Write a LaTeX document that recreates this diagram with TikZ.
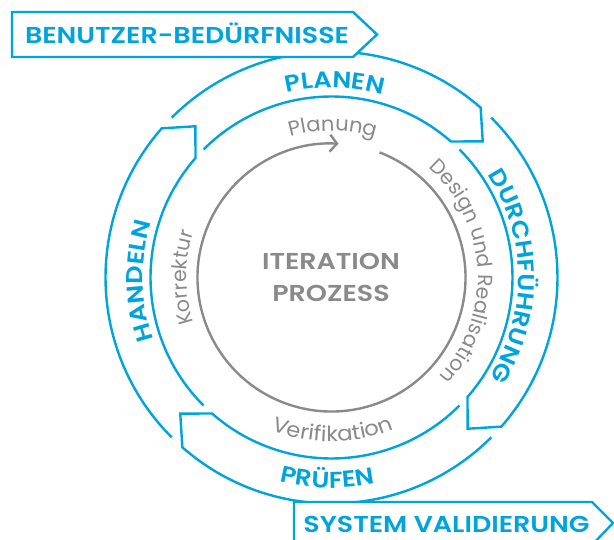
\documentclass[tikz,border=0pt]{standalone}
\usepackage{fontspec}
\usetikzlibrary{decorations.text,arrows.meta}
\IfFontExistsTF{Poppins SemiBold}{\newfontfamily\boldf{Poppins SemiBold}[FakeStretch=1.12]\newfontfamily\boldw{Poppins SemiBold}[FakeStretch=1.17]}{\newfontfamily\boldf{Poppins}[FakeStretch=1.1]\newfontfamily\boldw{Poppins}[FakeStretch=1.15]}
\newfontfamily\lightf{Poppins}
\newfontfamily\lightm{Poppins}[FakeStretch=1.03]
\newfontfamily\lightw{Poppins}[FakeStretch=1.08]
\definecolor{cblue}{RGB}{0,164,220}
\definecolor{cgray}{RGB}{138,138,138}
\tikzset{
  band/.style={draw=cblue, line width=2.4pt, line join=miter},
  labelbox/.style={draw=cblue, fill=white, line width=2.4pt, line join=miter},
  bluetxt/.style={text=cblue, font=\boldw\fontsize{23}{23}\selectfont, inner sep=0pt},
  graytxt/.style={text=cgray, font=\boldw\fontsize{23}{23}\selectfont, inner sep=0pt},
  ringline/.style={draw=cgray, line width=2.4pt},
  bluearc/.style={decorate, decoration={text along path, text align=center, text color=cblue,
      text={|\boldf\fontsize{23}{23}\selectfont|#1}}},
  grayarc/.style 2 args={decorate, decoration={text along path, text align=center, text color=cgray,
      text={|#1|#2}}},
}
\begin{document}
\begin{tikzpicture}[x=1pt,y=1pt]
\useasboundingbox (0,0) rectangle (614,539);
\clip (0,0) rectangle (614,539);
\fill[white] (0,0) rectangle (614,539);
\coordinate (c) at (331.5,261.5);
\begin{scope}[shift={(c)}]
  % four arrow segments of the blue band
  \foreach \t [evaluate=\t as \b using \t-86.3, evaluate=\t as \p using \t-93] in {135,45,-45,-135}{
    \draw[band] (\t:226) arc[start angle=\t, end angle=\b, radius=226]
      -- (\p:203.5) -- (\b:181) arc[start angle=\b, end angle=\t, radius=181];
  }
  % inner gray cycle
  \draw[ringline, -{Straight Barb[length=7pt,width=17pt,line width=2.4pt]}]
    (69:134) arc[start angle=69, end angle=-273, radius=134];
  % blue band labels
  \path[bluearc=PLANEN] (129:190) arc[start angle=129, end angle=49, radius=190];
  \path[bluearc=DURCHFÜHRUNG] (46:187) arc[start angle=46, end angle=-45, radius=187];
  \path[bluearc=HANDELN] (226:188.5) arc[start angle=226, end angle=136, radius=188.5];
  \path[bluearc=PRÜFEN] (228.5:210.5) arc[start angle=228.5, end angle=309.1, radius=210.5];
  % gray ring labels
  \path[grayarc={\lightm\fontsize{20.5}{20.5}\selectfont}{Planung}] (130:146.5) arc[start angle=130, end angle=49, radius=146.5];
  \path[grayarc={\lightf\fontsize{20.5}{20.5}\selectfont}{Design und Realisation}] (62:146.5) arc[start angle=62, end angle=-56, radius=146.5];
  \path[grayarc={\lightf\fontsize{20.5}{20.5}\selectfont}{Korrektur}] (225:145) arc[start angle=225, end angle=135, radius=145];
  \path[grayarc={\lightw\fontsize{21}{21}\selectfont}{Verifikation}] (225:164) arc[start angle=225, end angle=316, radius=164];
\end{scope}
% centre text
\node[graytxt, anchor=base] (it1) at (331,269) {ITERATION};
\node[graytxt, anchor=base] (it2) at (331,237) {PROZESS};
% top label box
\draw[labelbox] (12,527) -- (353,527) -- (377,504.5) -- (353,482) -- (12,482) -- cycle;
\node[bluetxt, anchor=base] (needs) at (187,495) {BENUTZER-BEDÜRFNISSE};
% bottom label box
\draw[labelbox] (294,-6) -- (294,37) -- (592,37) -- (613,16) -- (592,-6);
\node[bluetxt, anchor=base] (valid) at (446.5,7) {SYSTEM VALIDIERUNG};
\end{tikzpicture}
\end{document}
